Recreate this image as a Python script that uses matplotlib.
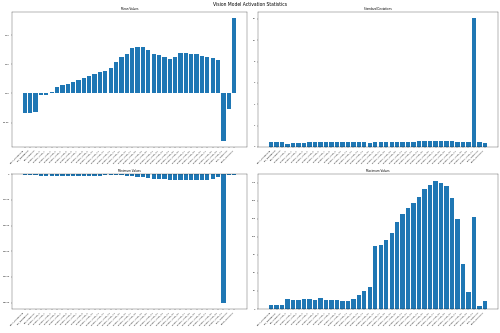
import matplotlib
matplotlib.use("Agg")
import matplotlib.pyplot as plt
from matplotlib.ticker import MultipleLocator

# layer names (40 entries)
layers = (["patch_embedding", "pos_embedding", "pre_layernorm"]
          + [f"encoder_layer_{i}" for i in range(35)]
          + ["post_layernorm", "vision_projection"])

mean_vals = [-0.034, -0.034, -0.031, -0.003, -0.003, 0.003, 0.011, 0.014, 0.016, 0.020,
             0.023, 0.026, 0.030, 0.033, 0.037, 0.038, 0.043, 0.054, 0.062, 0.068,
             0.078, 0.079, 0.080, 0.075, 0.068, 0.065, 0.062, 0.059, 0.062, 0.069,
             0.069, 0.067, 0.067, 0.064, 0.062, 0.061, 0.057, -0.081, -0.026, 0.129]

std_vals = [0.45, 0.45, 0.45, 0.25, 0.35, 0.38, 0.40, 0.42, 0.45, 0.48,
            0.50, 0.50, 0.48, 0.48, 0.50, 0.48, 0.45, 0.42, 0.40, 0.45,
            0.43, 0.43, 0.43, 0.47, 0.48, 0.48, 0.50, 0.52, 0.55, 0.55,
            0.57, 0.58, 0.57, 0.52, 0.48, 0.43, 0.45, 12.05, 0.42, 0.35]

min_vals = [-40, -40, -40, -65, -65, -65, -65, -65, -65, -65,
            -65, -65, -60, -60, -55, -50, -45, -35, -35, -80,
            -80, -100, -130, -155, -180, -200, -205, -210, -210, -210,
            -215, -215, -210, -215, -210, -200, -115, -5000, -50, -15]

max_vals = [6, 6, 6, 13.4, 13, 13, 13.4, 13.4, 12.5, 15.3,
            12.5, 12.5, 13, 10.6, 10.6, 13.9, 19, 25, 30, 87,
            89, 96, 105, 120, 132, 140, 147, 155, 166, 172,
            178, 175, 170, 154, 125, 63, 24, 128, 3.7, 10.6]

panels = [("Mean Values", mean_vals), ("Standard Deviations", std_vals),
          ("Minimum Values", min_vals), ("Maximum Values", max_vals)]

fig, axes = plt.subplots(2, 2, figsize=(20, 13.32), dpi=25)
fig.suptitle("Vision Model Activation Statistics", fontsize=13, y=0.995)

x = list(range(len(layers)))
for ax, (title, vals) in zip(axes.flat, panels):
    ax.bar(x, vals, color="#1f77b4")
    ax.set_title(title, fontsize=8)
    ax.set_xticks(x)
    ax.set_xticklabels(layers, rotation=45, ha="right", fontsize=6)
    ax.tick_params(axis="y", labelsize=6)

axes[0, 0].yaxis.set_major_locator(MultipleLocator(0.05))
axes[0, 1].yaxis.set_major_locator(MultipleLocator(2))
axes[1, 0].yaxis.set_major_locator(MultipleLocator(1000))
axes[1, 1].yaxis.set_major_locator(MultipleLocator(25))

axes[0, 0].set_position([0.024, 0.559, 0.47, 0.405])
axes[0, 1].set_position([0.516, 0.559, 0.48, 0.405])
axes[1, 0].set_position([0.024, 0.072, 0.47, 0.405])
axes[1, 1].set_position([0.516, 0.072, 0.48, 0.405])

fig.savefig("out.png", dpi=25)
